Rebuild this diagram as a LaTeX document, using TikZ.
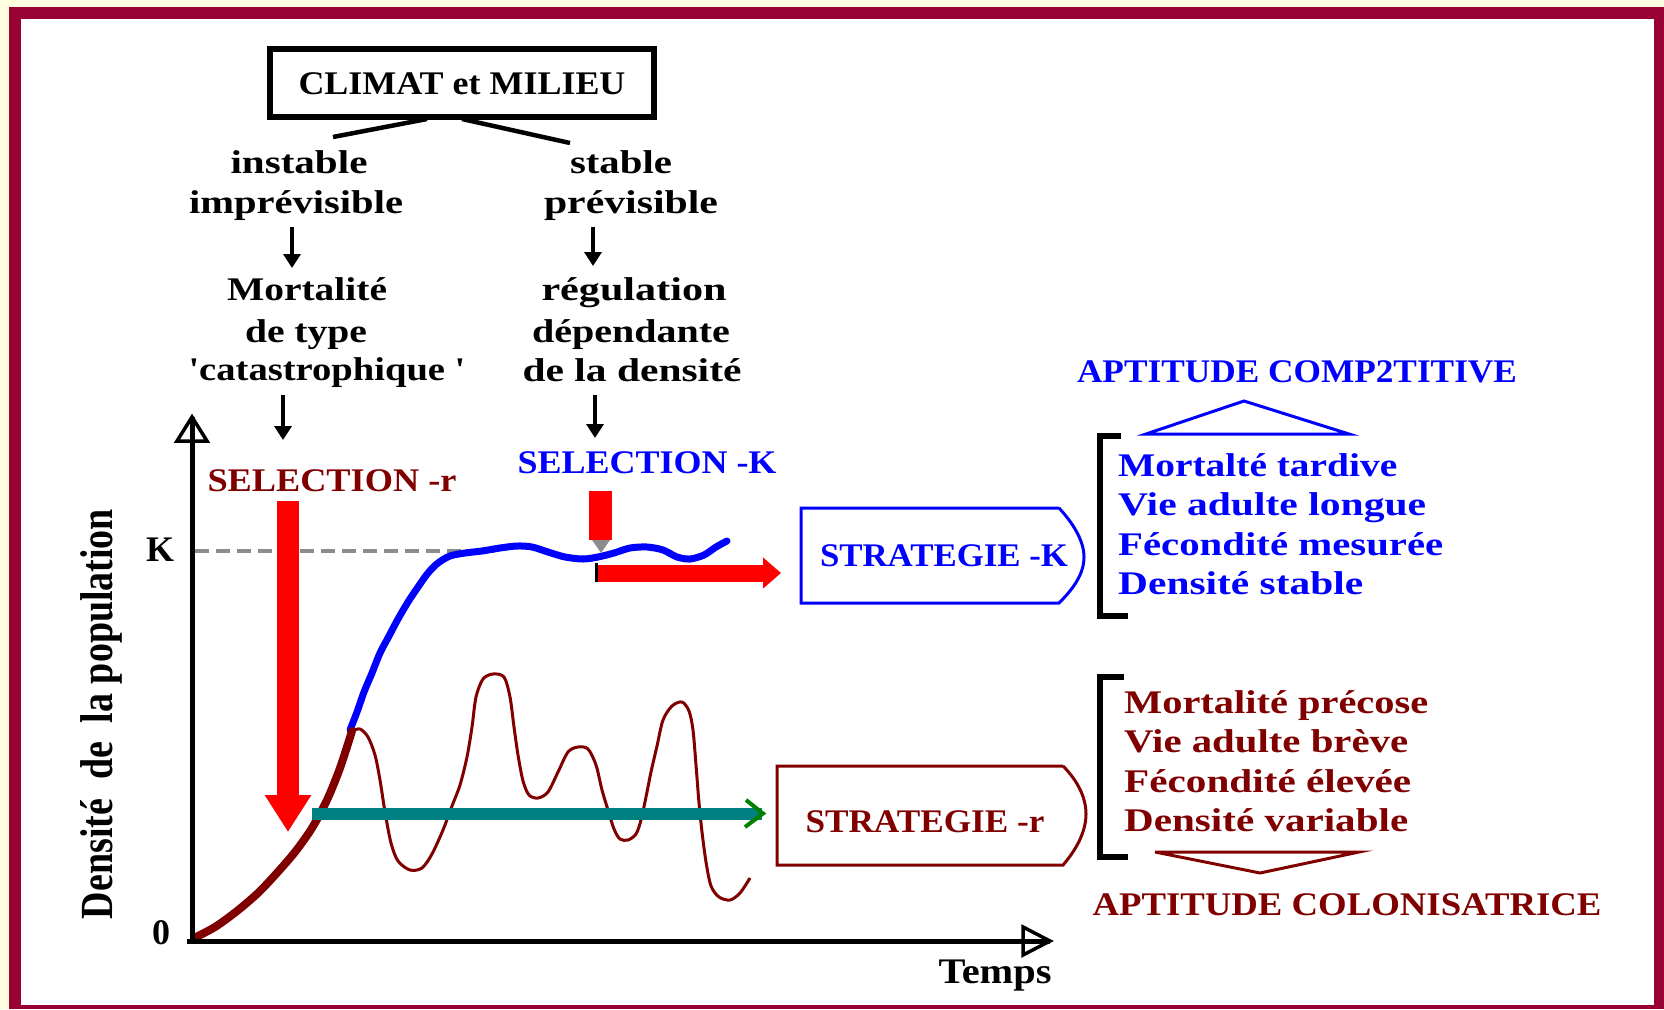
\documentclass[tikz,border=0pt]{standalone}
\usepackage{fontspec}
\setmainfont{Liberation Serif}
\usepackage{graphicx}
\usetikzlibrary{arrows.meta}
\definecolor{framec}{HTML}{990033}
\definecolor{creamc}{HTML}{FFFFE0}
\definecolor{mar}{HTML}{800000}
\definecolor{tealc}{HTML}{008080}
\definecolor{greenc}{HTML}{008000}
\definecolor{grayc}{HTML}{8C8C8C}
\makeatletter
\newlength\fitlen
\newcommand\fitto[2]{\settowidth{\fitlen}{#2}\edef\fitfactor{\fpeval{#1/\strip@pt\fitlen}}\scalebox{\fitfactor}[1]{#2}}
\makeatother
\begin{document}
\begin{tikzpicture}[x=1pt,y=-1pt,
  lbl/.style={inner sep=0pt, anchor=base, font=\fontsize{33}{40}\selectfont\bfseries},
  lblw/.style={lbl, anchor=base west},
  bigf/.style={font=\fontsize{36}{42}\selectfont\bfseries},
  sarrow/.style={line width=4.5, -{Triangle[width=17pt,length=14pt]}},
  axisline/.style={line width=5},
  axhead/.style={line width=3.5, fill=white, line join=miter},
  boxline/.style={line width=3, line join=miter},
  bracketline/.style={line width=6},
]
\useasboundingbox (0,0) rectangle (1664,1009);
\fill[creamc] (0,0) rectangle (1664,1009);
\fill[framec] (9,7) rectangle (1664,1009);
\fill[white] (21,19) rectangle (1654,1005);

% ---- top box and branches
\node[lbl, anchor=center, draw, line width=5.5, minimum width=384, minimum height=68, text height=22pt, text depth=0pt] (clim) at (462,83) {\fitto{327}{CLIMAT et MILIEU}};
\coordinate (l1a) at (427,119);
\coordinate (l1b) at (333,137);
\coordinate (l2a) at (462,119);
\coordinate (l2b) at (570,143);
\draw[line width=4.5] (l1a) -- (l1b);
\draw[line width=4.5] (l2a) -- (l2b);

\node[lbl] (inst) at (299,173) {\fitto{137}{instable}};
\node[lbl] (impr) at (296,213) {\fitto{214}{imprévisible}};
\node[lbl] (stab) at (621,173) {\fitto{102}{stable}};
\node[lbl] (prev) at (631,213) {\fitto{174}{prévisible}};

\coordinate (a1a) at (292,227); \coordinate (a1b) at (292,268);
\coordinate (a2a) at (593,227); \coordinate (a2b) at (593,266);
\draw[sarrow] (a1a) -- (a1b);
\draw[sarrow] (a2a) -- (a2b);

\node[lbl] (mort) at (307,300) {\fitto{160}{Mortalité}};
\node[lbl] (dtyp) at (306,342) {\fitto{122}{de type}};
\node[lbl] (cata) at (327,380) {\fitto{277}{\textquotesingle catastrophique \textquotesingle}};
\node[lbl] (regu) at (634,300) {\fitto{185}{régulation}};
\node[lbl] (depe) at (631,342) {\fitto{198}{dépendante}};
\node[lbl] (dens) at (632,381) {\fitto{219}{de la densité}};

\coordinate (a3a) at (283,395); \coordinate (a3b) at (283,440);
\coordinate (a4a) at (595,395); \coordinate (a4b) at (595,438);
\draw[sarrow] (a3a) -- (a3b);
\draw[sarrow] (a4a) -- (a4b);

\node[lbl, text=mar] (selr) at (332,491) {\fitto{249}{SELECTION -r}};
\node[lbl, text=blue] (selk) at (647,473) {\fitto{259}{SELECTION -K}};

% ---- K level dashed line
\coordinate (kd1) at (195,551);
\coordinate (kd2) at (495,551);
\draw[grayc, line width=4, dash pattern=on 14pt off 7pt] (kd1) -- (kd2);

% ---- curves
\draw[blue, line width=7, line join=round, line cap=round] plot[smooth, tension=0.5] coordinates {
(350,730) (357,712) (364,692) (372,673) (380,653) (389,636) (398,619) (408,602) (418,587) (428,573) (438,563) (450,556) (465,553) (482,551) (500,548) (517,546) (532,547) (548,552) (565,557) (583,559) (598,557) (614,553) (630,548) (647,547) (663,550) (677,557) (690,559) (704,555) (716,547) (727,541)};
\draw[mar, line width=3, line join=round] plot[smooth, tension=0.5] coordinates {
(352,731) (360,729) (368,737) (375,755) (380,780) (385,812) (391,843) (398,861) (410,870) (422,868) (432,854) (443,830) (452,806) (460,785) (467,757) (472,727) (476,697) (483,679) (493,674) (504,677) (510,697) (514,727) (518,755) (523,781) (529,795) (538,798) (548,792) (558,772) (568,752) (578,747) (588,749) (596,765) (602,790) (608,810) (614,829) (620,839) (628,840) (636,834) (641,820) (646,797) (651,772) (657,746) (663,720) (672,706) (682,702) (689,711) (693,730) (696,765) (699,803) (702,832) (706,862) (711,886) (719,897) (730,900) (740,893) (750,878)};
\draw[mar, line width=8, line cap=round] plot[smooth, tension=0.5] coordinates {
(194,938) (215,927) (237,911) (258,893) (276,874) (295,852) (312,828) (327,800) (340,768) (352,731)};

% ---- axes
\coordinate (O) at (192,941);
\coordinate (ytop) at (192,417);
\coordinate (xend) at (1050,941);
\draw[axhead] (ytop) -- (177,441) -- (207,441) -- cycle;
\draw[axhead] (xend) -- (1023,927) -- (1023,955) -- cycle;
\draw[axisline] (192,943.5) -- (ytop);
\draw[axisline] (187,941) -- (xend);

\node[lbl, bigf] (klab) at (160,561) {K};
\node[lbl, bigf] (zero) at (161,944) {0};
\node[lbl, font=\fontsize{46}{50}\selectfont\bfseries, rotate=90] (ylab) at (112,714) {\fitto{410}{Densité\ \ de\ \ la population}};
\node[lbl, bigf] (temps) at (995,983) {\fitto{113}{Temps}};

% ---- selection arrows
\coordinate (ra) at (288,501); \coordinate (rb) at (288,832);
\draw[red, line width=22, -{Triangle[width=44pt,length=37pt]}] (ra) -- (rb);

\coordinate (ta) at (312,814); \coordinate (tb) at (762,814);
\draw[tealc, line width=12] (ta) -- (tb);
\draw[greenc, line width=4] (746,800) -- (763,813.5) -- (745,827);

\fill[grayc] (592,540) -- (610,540) -- (601,553) -- cycle;
\fill[red] (589,491) rectangle (612,540);
\coordinate (ka) at (597,573); \coordinate (kb) at (781,573);
\draw[red, line width=17, -{Triangle[width=30pt,length=18pt]}] (ka) -- (kb);
\draw[line width=3] (596.5,563) -- (596.5,582);

% ---- strategy boxes
\node[lbl, text=blue] (stk) at (944,566) {\fitto{248}{STRATEGIE -K}};
\draw[blue, boxline] (1059,508) -- (801,508) -- (801,603) -- (1059,603) .. controls (1072,590) and (1084,575) .. (1084,557) .. controls (1084,540) and (1072,522) .. (1059,508);
\node[lbl, text=mar] (str) at (925,832) {\fitto{239}{STRATEGIE -r}};
\draw[mar, boxline] (1063,766) -- (777,766) -- (777,865) -- (1063,865) .. controls (1076,850) and (1086,832) .. (1086,814) .. controls (1086,796) and (1076,779) .. (1063,766);

% ---- brackets
\draw[bracketline] (1121,436) -- (1099.5,436) -- (1099.5,616) -- (1128,616);
\draw[bracketline] (1124,677) -- (1099.5,677) -- (1099.5,857) -- (1128,857);

% ---- lists
\node[lblw, text=blue] (k1) at (1118,476) {\fitto{279}{Mortalté tardive}};
\node[lblw, text=blue] (k2) at (1118,515) {\fitto{308}{Vie adulte longue}};
\node[lblw, text=blue] (k3) at (1118,555) {\fitto{325}{Fécondité mesurée}};
\node[lblw, text=blue] (k4) at (1118,594) {\fitto{245}{Densité stable}};
\node[lblw, text=mar] (r1) at (1124,713) {\fitto{304}{Mortalité précose}};
\node[lblw, text=mar] (r2) at (1124,752) {\fitto{284}{Vie adulte brève}};
\node[lblw, text=mar] (r3) at (1124,792) {\fitto{287}{Fécondité élevée}};
\node[lblw, text=mar] (r4) at (1124,831) {\fitto{284}{Densité variable}};

% ---- aptitudes
\draw[blue, line width=3] (1146,434) -- (1244,401) -- (1349,434) -- cycle;
\draw[mar, line width=3] (1155,852) -- (1260,873) -- (1359,852) -- cycle;
\node[lbl, text=blue] (apk) at (1297,382) {\fitto{440}{APTITUDE COMP2TITIVE}};
\node[lbl, text=mar] (apr) at (1347,915) {\fitto{509}{APTITUDE COLONISATRICE}};
\end{tikzpicture}
\end{document}
